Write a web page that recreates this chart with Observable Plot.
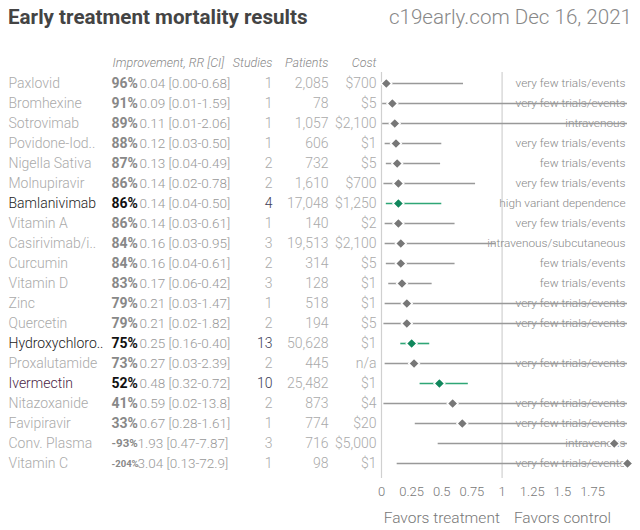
<!DOCTYPE html>
<html>
<head>
<meta charset="utf-8">
<script src="https://cdn.jsdelivr.net/npm/d3@7"></script>
<script src="https://cdn.jsdelivr.net/npm/@observablehq/plot@0.6"></script>
<style>
  html, body { margin: 0; padding: 0; background: #fff; }
  #title { position: relative; width: 640px; height: 38px; font-family: Roboto, sans-serif; }
  #title .t { position: absolute; left: 8px; top: 5px; font-size: 20.6px; font-weight: 700; color: #444; }
  #title .s { position: absolute; right: 8px; top: 5px; font-size: 20.6px; font-weight: 300; color: #888; }
  svg { display: block; }
</style>
</head>
<body>
<div id="title"><span class="t">Early treatment mortality results</span><span class="s">c19early.com Dec 16, 2021</span></div>
<div id="chart"></div>
<script>
const names = ["Paxlovid","Bromhexine","Sotrovimab","Povidone-Iod..","Nigella Sativa","Molnupiravir","Bamlanivimab","Vitamin A","Casirivimab/i..","Curcumin","Vitamin D","Zinc","Quercetin","Hydroxychloro..","Proxalutamide","Ivermectin","Nitazoxanide","Favipiravir","Conv. Plasma","Vitamin C"];
const improvement = [96,91,89,88,87,86,86,86,84,84,83,79,79,75,73,52,41,33,-93,-204];
const rr = [0.04,0.09,0.11,0.12,0.13,0.14,0.14,0.14,0.16,0.16,0.17,0.21,0.21,0.25,0.27,0.48,0.59,0.67,1.93,3.04];
const ciLow = [0.00,0.01,0.01,0.03,0.04,0.02,0.04,0.03,0.03,0.04,0.06,0.03,0.02,0.16,0.03,0.32,0.02,0.28,0.47,0.13];
const ciHigh = [0.68,1.59,2.06,0.50,0.49,0.78,0.50,0.61,0.95,0.61,0.42,1.47,1.82,0.40,2.39,0.72,13.8,1.61,7.87,72.9];
const studies = [1,1,1,1,2,2,4,1,3,2,3,1,2,13,2,10,2,1,3,1];
const patients = [2085,78,1057,606,732,1610,17048,140,19513,314,128,518,194,50628,445,25482,873,774,716,98];
const cost = ["$700","$5","$2,100","$1","$5","$700","$1,250","$2","$2,100","$5","$1","$1","$5","$1","n/a","$1","$4","$20","$5,000","$1"];
const notes = ["very few trials/events","very few trials/events","intravenous","very few trials/events","few trials/events","very few trials/events","high variant dependence","very few trials/events","intravenous/subcutaneous","few trials/events","few trials/events","very few trials/events","very few trials/events","","very few trials/events","","very few trials/events","very few trials/events","intravenous","very few trials/events"];
const highlighted = ["Bamlanivimab","Hydroxychloro..","Ivermectin"];
const xTicks = [0,0.25,0.5,0.75,1,1.25,1.5,1.75];
const headers = ["Improvement, RR [CI]","Studies","Patients","Cost"];
const favorLabels = ["Favors treatment","Favors control"];

const xMax = 2.04;
const fmt2 = v => v >= 10 ? v.toFixed(1) : v.toFixed(2);
const rows = names.map((name, i) => ({
  name, imp: improvement[i], rr: rr[i], lo: ciLow[i], hi: ciHigh[i],
  studies: studies[i], patients: patients[i], cost: cost[i], note: notes[i],
  hl: highlighted.includes(name)
}));

const F = "Roboto, sans-serif";
const green = "#10875c";
const greenLine = "#2fa676";

const plot = Plot.plot({
  width: 640,
  height: 492,
  marginLeft: 0,
  marginRight: 0,
  marginTop: 34,
  marginBottom: 52,
  style: {fontFamily: F, background: "#fff"},
  x: {domain: [0, xMax], range: [381, 627], clamp: true},
  y: {type: "point", domain: names, range: [44, 426], padding: 0, axis: null},
  marks: [
    Plot.ruleX([0, 1], {stroke: "#d0d0d0", strokeWidth: 1.2}),
    Plot.axisX({ticks: xTicks, tickSize: 0, tickPadding: 8, tickFormat: d => String(d), fontSize: 13, color: "#777", fontWeight: 300}),
    // header
    Plot.text([headers[0]], {frameAnchor: "top-left", dx: 112, dy: -10, lineAnchor: "middle", textAnchor: "start", fontStyle: "italic", fontSize: 12.5, fill: "#888", fontWeight: 300}),
    Plot.text([headers[1]], {frameAnchor: "top-left", dx: 272, dy: -10, lineAnchor: "middle", textAnchor: "end", fontStyle: "italic", fontSize: 12.5, fill: "#888", fontWeight: 300}),
    Plot.text([headers[2]], {frameAnchor: "top-left", dx: 328, dy: -10, lineAnchor: "middle", textAnchor: "end", fontStyle: "italic", fontSize: 12.5, fill: "#888", fontWeight: 300}),
    Plot.text([headers[3]], {frameAnchor: "top-left", dx: 376, dy: -10, lineAnchor: "middle", textAnchor: "end", fontStyle: "italic", fontSize: 12.5, fill: "#888", fontWeight: 300}),
    // name column
    Plot.text(rows, {y: "name", text: "name", frameAnchor: "left", dx: 8, textAnchor: "start", fontSize: 14, fontWeight: 300,
      fill: d => d.name === "Ivermectin" ? "#4a1f45" : d.hl ? "#222" : "#aaa"}),
    // improvement
    Plot.text(rows, {y: "name", text: d => d.imp + "%", frameAnchor: "left", dx: 111, textAnchor: "start", fontWeight: 700,
      fontSize: d => d.imp <= -100 ? 9.5 : d.imp < 0 ? 11.5 : 14,
      fill: d => d.hl ? "#111" : "#888"}),
    // RR [CI]
    Plot.text(rows.filter(d => d.imp >= 0), {y: "name", text: d => `${d.rr.toFixed(2)} [${fmt2(d.lo)}-${fmt2(d.hi)}]`, frameAnchor: "left", dx: 139, textAnchor: "start", fontSize: 13.5, fontWeight: 300, fill: "#999"}),
    Plot.text(rows.filter(d => d.imp < 0), {y: "name", text: d => `${d.rr.toFixed(2)} [${fmt2(d.lo)}-${fmt2(d.hi)}]`, frameAnchor: "left", dx: 137, textAnchor: "start", fontSize: 13.5, fontWeight: 300, fill: "#999"}),
    // studies
    Plot.text(rows, {y: "name", text: d => String(d.studies), frameAnchor: "left", dx: 272, textAnchor: "end", fontSize: 14, fontWeight: 300,
      fill: d => d.hl ? "#3d3d55" : "#aaa"}),
    // patients
    Plot.text(rows, {y: "name", text: d => d3.format(",")(d.patients), frameAnchor: "left", dx: 328, textAnchor: "end", fontSize: 14, fontWeight: 300, fill: "#aaa"}),
    // cost
    Plot.text(rows, {y: "name", text: "cost", frameAnchor: "left", dx: 376, textAnchor: "end", fontSize: 14, fontWeight: 300, fill: "#aaa"}),
    // notes
    Plot.text(rows, {y: "name", text: "note", frameAnchor: "right", dx: -15, textAnchor: "end", fontSize: 11.8, fontWeight: 300, fill: "#888"}),
    // CI lines
    Plot.ruleY(rows, {y: "name", x1: "lo", x2: d => d.hi > 1 ? xMax : d.hi, stroke: d => d.hl ? greenLine : "#999", strokeWidth: 1.6}),
    // diamonds
    Plot.dot(rows, {y: "name", x: "rr", symbol: "diamond2", r: 4.8, fill: d => d.hl ? green : "#777", stroke: "#fff", strokeWidth: 1.5}),
    // favors labels
    Plot.text([favorLabels[0]], {x: 0.5, frameAnchor: "bottom", dy: 44, fontSize: 15.5, fill: "#777", fontWeight: 300}),
    Plot.text([favorLabels[1]], {x: 1.5, frameAnchor: "bottom", dy: 44, fontSize: 15.5, fill: "#777", fontWeight: 300})
  ]
});
document.getElementById("chart").appendChild(plot);
</script>
</body>
</html>
